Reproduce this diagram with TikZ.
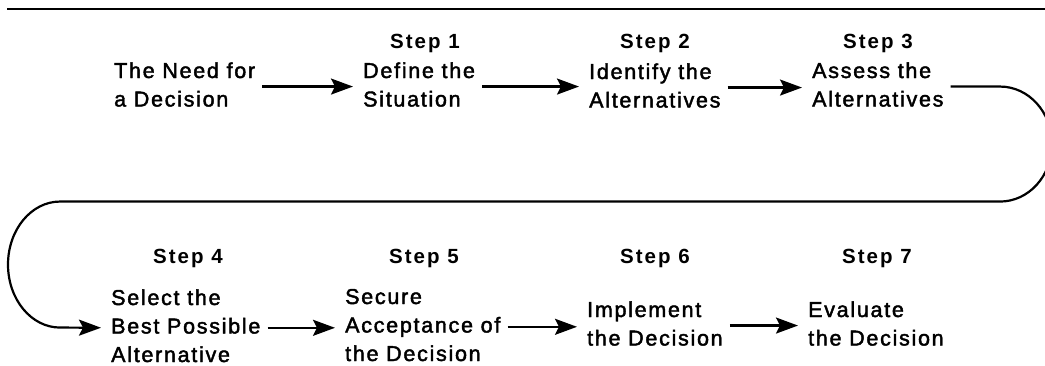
\documentclass[tikz,border=0pt]{standalone}
\usepackage{fontspec}
\setmainfont{Liberation Sans}[LetterSpace=8,FakeBold=2]
\newfontfamily\stepfont{Liberation Sans}[LetterSpace=10]
\usetikzlibrary{arrows.meta}
\newcommand\txtblock[1]{\begin{tabular}[t]{@{}l@{}}#1\end{tabular}}
\begin{document}
\begin{tikzpicture}[x=1pt,y=-1pt,
  txt/.style={anchor=base west, inner sep=0pt, font=\fontsize{21.5}{28.5}\selectfont},
  lbl/.style={anchor=base, inner sep=0pt, font=\fontsize{20.5}{28.5}\stepfont\bfseries},
  arr/.style={line width=2.2pt, -{Stealth[length=22pt,width=16pt,inset=4pt]}, shorten <=7pt, shorten >=10pt},
  rule/.style={line width=2pt}]
\useasboundingbox (0,0) rectangle (1045,365);
\clip (0,0) rectangle (1045,365);
\draw[rule] (7,9) -- (1045,9);
% top row
\node[txt] (need) at (114,78) {\txtblock{The Need for\\a Decision}};
\node[lbl] (l1) at (425,48) {Step 1};
\node[txt] (s1) at (363,78) {\txtblock{Define the\\Situation}};
\node[lbl] (l2) at (655,48) {Step 2};
\node[txt] (s2) at (589,79) {\txtblock{Identify the\\Alternatives}};
\node[lbl] (l3) at (878,48) {Step 3};
\node[txt] (s3) at (812,78) {\txtblock{Assess the\\Alternatives}};
% bottom row
\node[lbl] (l4) at (188,263) {Step 4};
\node[txt] (s4) at (111,305) {\txtblock{Select the\\Best Possible\\Alternative}};
\node[lbl] (l5) at (424,263) {Step 5};
\node[txt] (s5) at (345,304) {\txtblock{Secure\\Acceptance of\\the Decision}};
\node[lbl] (l6) at (655,263) {Step 6};
\node[txt] (s6) at (587,317) {\txtblock{Implement\\the Decision}};
\node[lbl] (l7) at (877,263) {Step 7};
\node[txt] (s7) at (808,317) {\txtblock{Evaluate\\the Decision}};
% connectors
\coordinate (rt) at (1000,0);
\draw[arr] (need.east) -- (need.east -| s1.west);
\draw[arr] (s1.east) -- (s1.east -| s2.west);
\draw[arr] (s2.east) -- (s2.east -| s3.west);
\draw[arr] (s3.east) -- (s3.east -| rt)
  arc[start angle=-90, end angle=90, x radius=52, y radius=57.5]
  -- ++(-940,0)
  arc[start angle=270, end angle=90, x radius=52, y radius=63]
  -- (s4.west);
\draw[arr] (s4.east) -- (s4.east -| s5.west);
\draw[arr] (s5.east) -- (s5.east -| s6.west);
\draw[arr] (s6.east) -- (s6.east -| s7.west);
\end{tikzpicture}
\end{document}
